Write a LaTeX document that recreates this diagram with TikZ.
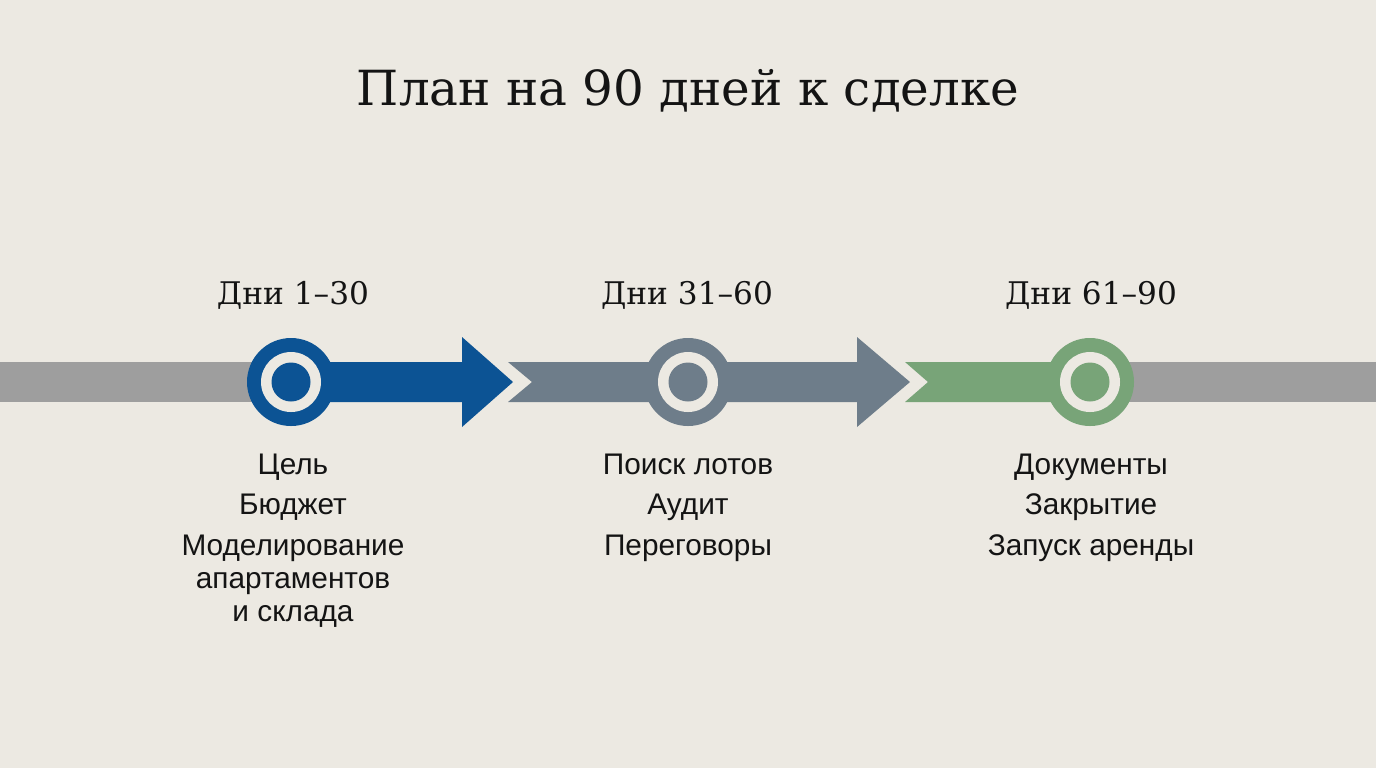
\documentclass[tikz,border=0pt]{standalone}
\usepackage{fontspec}
\setmainfont{DejaVu Serif}
\newfontfamily\labelsans{Liberation Sans}
\definecolor{bgc}{HTML}{ECE9E2}
\definecolor{cblue}{HTML}{0C5394}
\definecolor{cslate}{HTML}{6E7D8A}
\definecolor{cgreen}{HTML}{78A478}
\definecolor{cgray}{HTML}{9E9E9E}
\definecolor{ink}{HTML}{141414}
\tikzset{
  outerdot/.style={circle, inner sep=0pt, minimum size=44pt},
  ringdot/.style={circle, inner sep=0pt, minimum size=30pt, fill=bgc},
  innerdot/.style={circle, inner sep=0pt, minimum size=19.5pt},
  titletext/.style={anchor=base, text=ink, font=\fontsize{24.2}{29}\selectfont},
  daytext/.style={anchor=base, text=ink, font=\fontsize{15.6}{18}\selectfont},
  itemtext/.style={anchor=base, text=ink, font=\labelsans\fontsize{14.9}{17}\selectfont},
}
\begin{document}
\begin{tikzpicture}[x=0.5pt,y=-0.5pt]
\fill[bgc] (0,0) rectangle (1376,768);
\useasboundingbox (0,0) rectangle (1376,768);

% title
\node[titletext] (title) at (688,105) {План на 90 дней к сделке};

% left gray bar and right gray bar
\fill[cgray] (0,362) rectangle (291,402);
\fill[cgray] (1090,362) rectangle (1376,402);

% blue arrow
\fill[cblue] (291,362) -- (462,362) -- (462,337) -- (513,382) -- (462,427) -- (462,402) -- (291,402) -- cycle;
% slate arrow
\fill[cslate] (508,362) -- (857,362) -- (857,337) -- (910,382) -- (857,427) -- (857,402) -- (508,402) -- (532,382) -- cycle;
% green band
\fill[cgreen] (905,362) -- (1090,362) -- (1090,402) -- (905,402) -- (928,382) -- cycle;

% milestone circles
\node[outerdot, fill=cblue] (c1) at (291,382) {};
\node[ringdot] at (c1) {};
\node[innerdot, fill=cblue] at (c1) {};
\node[outerdot, fill=cslate] (c2) at (688,382) {};
\node[ringdot] at (c2) {};
\node[innerdot, fill=cslate] at (c2) {};
\node[outerdot, fill=cgreen] (c3) at (1090,382) {};
\node[ringdot] at (c3) {};
\node[innerdot, fill=cgreen] at (c3) {};

% day labels
\node[daytext] (d1) at (293,304) {Дни 1–30};
\node[daytext] (d2) at (687,304) {Дни 31–60};
\node[daytext] (d3) at (1091,304) {Дни 61–90};

% items column 1
\node[itemtext] (a1) at (293,474) {Цель};
\node[itemtext] (a2) at (293,514) {Бюджет};
\node[itemtext] (a3) at (293,555) {Моделирование};
\node[itemtext] (a4) at (293,588) {апартаментов};
\node[itemtext] (a5) at (293,621) {и склада};
% items column 2
\node[itemtext] (b1) at (688,474) {Поиск лотов};
\node[itemtext] (b2) at (688,514) {Аудит};
\node[itemtext] (b3) at (688,555) {Переговоры};
% items column 3
\node[itemtext] (e1) at (1091,474) {Документы};
\node[itemtext] (e2) at (1091,514) {Закрытие};
\node[itemtext] (e3) at (1091,555) {Запуск аренды};
\end{tikzpicture}
\end{document}
